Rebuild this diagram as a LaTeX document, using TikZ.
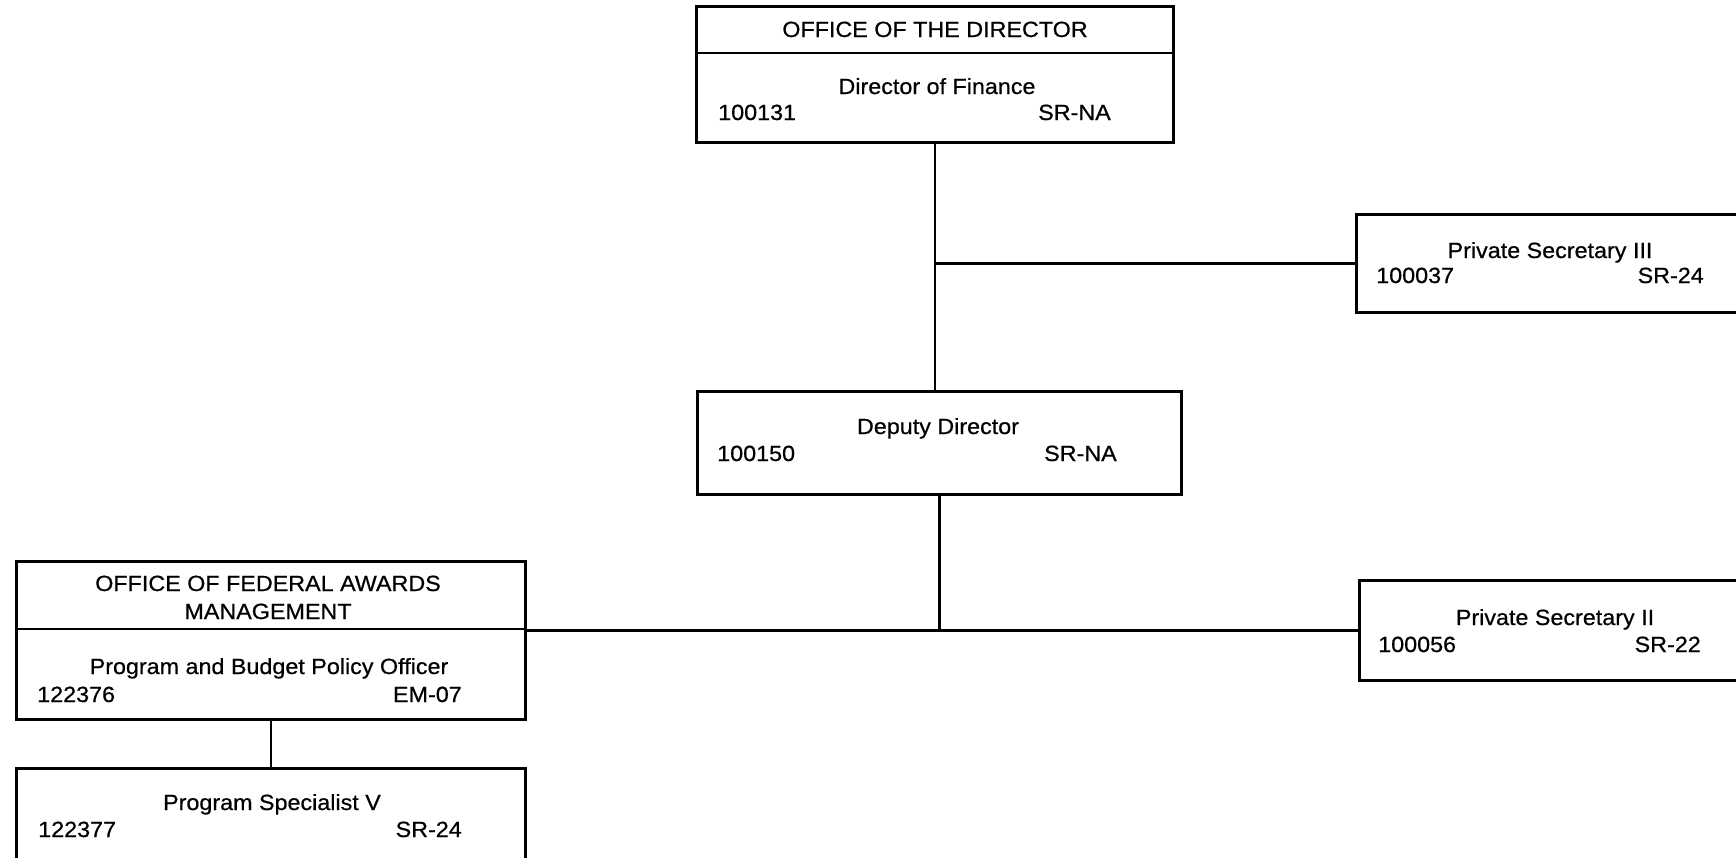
\documentclass[tikz,border=0pt]{standalone}
\usepackage{fontspec}
\setmainfont{Liberation Sans}[FakeStretch=1.06,FakeBold=0.6]
\begin{document}
\begin{tikzpicture}[x=1pt,y=-1pt,
  line width=2.5pt,
  box/.style={draw, line width=2.5pt, inner sep=0pt, anchor=north west},
  txt/.style={font={\fontsize{22pt}{24pt}\selectfont}, inner sep=0pt},
  ttl/.style={txt, anchor=base},
  idl/.style={txt, anchor=base west},
  grd/.style={txt, anchor=base east},
  link/.style={draw, line width=2.5pt}]
\useasboundingbox (0,0) rectangle (1736,857);
\clip (0,0) rectangle (1736,857);
% boxes
\node[box, minimum width=477pt, minimum height=136pt] (dir) at (695,5) {};
\draw (695,53) -- (1172,53);
\node[box, minimum width=484pt, minimum height=103pt] (dep) at (696,390) {};
\node[box, minimum width=420pt, minimum height=98pt] (ps3) at (1355,213) {};
\node[box, minimum width=420pt, minimum height=100pt] (ps2) at (1358,579) {};
\node[box, minimum width=509pt, minimum height=158pt] (ofa) at (15,560) {};
\draw (15,629) -- (524,629);
\node[box, minimum width=509pt, minimum height=130pt] (spec) at (15,767) {};
% connectors
\coordinate (j1) at (dir.south |- ps3.west);
\coordinate (j2) at (dep.south |- ps2.west);
\draw[link] (dir.south) -- (dir.south |- dep.north);
\draw[link] (j1) -- (ps3.west);
\draw[link] (dep.south) -- (j2);
\draw[link] (ofa.east |- j2) -- (ps2.west);
\draw[link] (ofa.south) -- (ofa.south |- spec.north);
% texts
\node[ttl] (t1) at (935,37) {OFFICE OF THE DIRECTOR};
\node[ttl] (t2) at (937,94) {Director of Finance};
\node[idl] (t3) at (717,120) {100131};
\node[grd] (t4) at (1112,120) {SR-NA};
\node[ttl] (t5) at (1550,258) {Private Secretary III};
\node[idl] (t6) at (1375,283) {100037};
\node[grd] (t7) at (1705,283) {SR-24};
\node[ttl] (t8) at (938,434) {Deputy Director};
\node[idl] (t9) at (716,461) {100150};
\node[grd] (t10) at (1118,461) {SR-NA};
\node[ttl] (t11) at (1555,625) {Private Secretary II};
\node[idl] (t12) at (1377,652) {100056};
\node[grd] (t13) at (1702,652) {SR-22};
\node[ttl] (t14) at (268,591) {OFFICE OF FEDERAL AWARDS};
\node[ttl] (t15) at (268,619) {MANAGEMENT};
\node[ttl] (t16) at (269,674) {Program and Budget Policy Officer};
\node[idl] (t17) at (36,702) {122376};
\node[grd] (t18) at (463,702) {EM-07};
\node[ttl] (t19) at (272,810) {Program Specialist V};
\node[idl] (t20) at (37,837) {122377};
\node[grd] (t21) at (463,837) {SR-24};
\end{tikzpicture}
\end{document}
